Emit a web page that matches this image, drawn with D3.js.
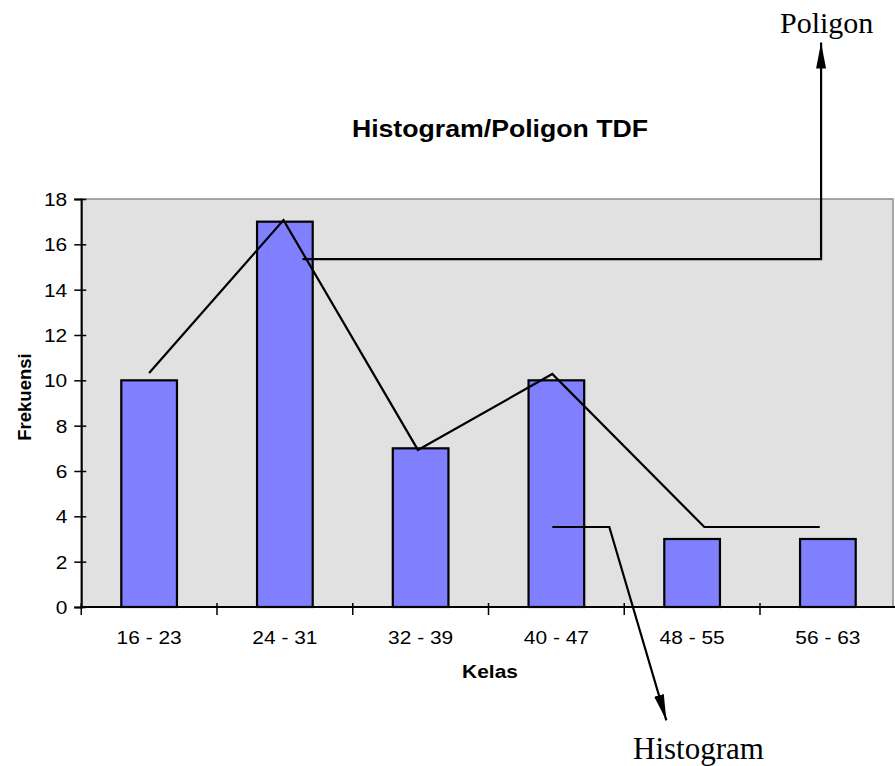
<!DOCTYPE html>
<html>
<head>
<meta charset="utf-8">
<script src="https://cdn.jsdelivr.net/npm/d3@7"></script>
<style>
  html, body { margin: 0; padding: 0; background: #ffffff; }
  svg { display: block; }
</style>
</head>
<body>
<script>
// ---- data ----
const categories = ["16 - 23", "24 - 31", "32 - 39", "40 - 47", "48 - 55", "56 - 63"];
const frequencies = [10, 17, 7, 10, 3, 3];
const yTicks = [0, 2, 4, 6, 8, 10, 12, 14, 16, 18];
// hand-drawn polygon line: [category position, value]
const poligonX = [0.0, 0.99, 1.98, 2.97, 4.09, 4.94];
const poligonY = [10.32, 17.07, 6.93, 10.28, 3.53, 3.53];
// annotation pointers: [category position, value]
const poligonPointerX = [1.13, 4.95, 4.95];
const poligonPointerY = [15.35, 15.35, 24.9];
const histogramPointerX = [2.97, 3.39, 3.81];
const histogramPointerY = [3.53, 3.53, -5.0];
const titleText = "Histogram/Poligon TDF";
const xTitle = "Kelas";
const yTitle = "Frekuensi";

(function () {
const W = 895, H = 766;
const SX = 1.1; // horizontal stretch of the chart's text
const sans = "Arial, 'Liberation Sans', sans-serif";
const serif = "'Times New Roman', 'Liberation Serif', serif";
const svg = d3.select("body").append("svg").attr("width", W).attr("height", H);

const pLeft = 81.25, pRight = 895.75, pTop = 199, pBottom = 607;
const xBand = d3.scaleBand().domain(categories).range([pLeft, pRight]).padding(0);
const xc = d3.scaleLinear().domain([-0.5, categories.length - 0.5]).range([pLeft, pRight]);
const y = d3.scaleLinear().domain([0, 18]).range([pBottom, pTop]);

// plot area
svg.append("rect")
  .attr("x", pLeft).attr("y", pTop)
  .attr("width", 893 - pLeft).attr("height", pBottom - pTop)
  .attr("fill", "#e1e1e1").attr("stroke", "#8c8c8c").attr("stroke-width", 1.5);

// bars
const barFrac = 0.41;
svg.append("g").selectAll("rect").data(frequencies).join("rect")
  .attr("x", (d, i) => xBand(categories[i]) + xBand.bandwidth() * (1 - barFrac) / 2)
  .attr("width", xBand.bandwidth() * barFrac)
  .attr("y", d => y(d))
  .attr("height", d => y(0) - y(d))
  .attr("fill", "#8080ff").attr("stroke", "#000").attr("stroke-width", 2.2);

// y axis
const yAxis = svg.append("g").attr("transform", `translate(${pLeft},0)`)
  .call(d3.axisLeft(y).tickValues(yTicks).tickSize(7).tickPadding(7));
yAxis.select(".domain").attr("stroke", "#000").attr("stroke-width", 2);
yAxis.selectAll(".tick line").attr("x1", 5).attr("x2", -7).attr("stroke", "#000").attr("stroke-width", 1.5);
yAxis.selectAll(".tick text").attr("font-family", sans)
  .attr("font-size", 19).attr("fill", "#000").attr("dy", "0.35em")
  .attr("x", -14 / SX).attr("transform", `scale(${SX},1)`);

// x axis
svg.append("line").attr("x1", pLeft).attr("x2", pRight).attr("y1", y(0)).attr("y2", y(0))
  .attr("stroke", "#000").attr("stroke-width", 2);
const bounds = d3.range(categories.length + 1).map(i => i - 0.5);
svg.append("g").selectAll("line").data(bounds).join("line")
  .attr("x1", d => xc(d)).attr("x2", d => xc(d))
  .attr("y1", y(0) - 4).attr("y2", y(0) + 8)
  .attr("stroke", "#000").attr("stroke-width", 1.5);
svg.append("g").selectAll("text").data(categories).join("text")
  .attr("transform", d => `translate(${xBand(d) + xBand.bandwidth() / 2},644) scale(${SX},1)`)
  .attr("text-anchor", "middle")
  .attr("font-family", sans)
  .attr("font-size", 19)
  .text(d => d);

// polygon line
const line = d3.line().x(d => xc(d[0])).y(d => y(d[1]));
svg.append("path").datum(poligonX.map((v, i) => [v, poligonY[i]]))
  .attr("d", line).attr("fill", "none").attr("stroke", "#000").attr("stroke-width", 2.2);

// arrow marker
const defs = svg.append("defs");
defs.append("marker").attr("id", "arrow")
  .attr("viewBox", "0 0 26 10").attr("refX", 26).attr("refY", 5)
  .attr("markerWidth", 26).attr("markerHeight", 10)
  .attr("markerUnits", "userSpaceOnUse").attr("orient", "auto")
  .append("path").attr("d", "M0,0 L26,5 L0,10 Z").attr("fill", "#000");

svg.append("path").datum(poligonPointerX.map((v, i) => [v, poligonPointerY[i]]))
  .attr("d", line).attr("fill", "none").attr("stroke", "#000").attr("stroke-width", 2.2)
  .attr("marker-end", "url(#arrow)");
svg.append("path").datum(histogramPointerX.map((v, i) => [v, histogramPointerY[i]]))
  .attr("d", line).attr("fill", "none").attr("stroke", "#000").attr("stroke-width", 2.2)
  .attr("marker-end", "url(#arrow)");

// annotation labels
svg.append("text").attr("x", 780).attr("y", 33)
  .attr("font-family", serif).attr("font-size", 30)
  .text("Poligon");
svg.append("text").attr("x", 633).attr("y", 759)
  .attr("font-family", serif).attr("font-size", 31)
  .text("Histogram");

// titles
svg.append("text").attr("transform", `translate(500,137) scale(1.16,1)`).attr("text-anchor", "middle")
  .attr("font-family", sans).attr("font-weight", "bold")
  .attr("font-size", 23)
  .text(titleText);
svg.append("text").attr("transform", `translate(490,678) scale(${SX},1)`).attr("text-anchor", "middle")
  .attr("font-family", sans).attr("font-weight", "bold")
  .attr("font-size", 19)
  .text(xTitle);
svg.append("text").attr("transform", "translate(31,397) rotate(-90)").attr("text-anchor", "middle")
  .attr("font-family", sans).attr("font-weight", "bold")
  .attr("font-size", 18.5)
  .text(yTitle);
})();
</script>
</body>
</html>
